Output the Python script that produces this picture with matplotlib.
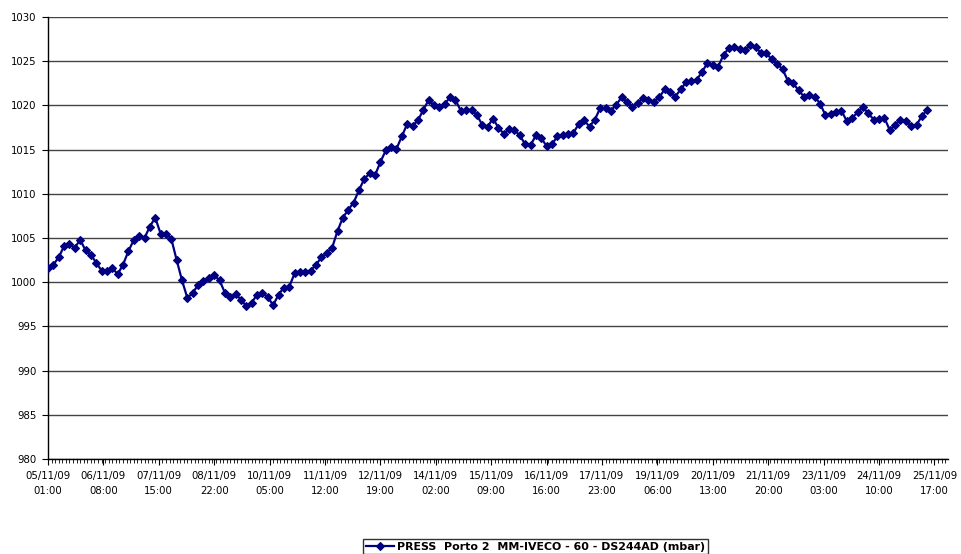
import matplotlib
matplotlib.use("Agg")
import matplotlib.pyplot as plt
import numpy as np
from matplotlib.ticker import MultipleLocator

# ---- data (pressure, mbar), one value every 3 hours from 05/11/09 01:00 ----
step_hours = 3
pressure = [
    1001.6, 1002.0, 1002.8, 1004.1, 1004.3, 1003.9, 1004.8, 1003.6, 1003.1, 1002.2,
    1001.3, 1001.3, 1001.6, 1000.9, 1002.0, 1003.5, 1004.8, 1005.2, 1005.0, 1006.3,
    1007.3, 1005.5, 1005.5, 1004.9, 1002.5, 1000.2, 998.2, 998.8, 999.7, 1000.1,
    1000.5, 1000.8, 1000.2, 998.8, 998.3, 998.7, 998.0, 997.3, 997.7, 998.6,
    998.8, 998.3, 997.4, 998.6, 999.4, 999.5, 1001.0, 1001.1, 1001.2, 1001.3,
    1002.0, 1002.8, 1003.3, 1003.9, 1005.8, 1007.3, 1008.2, 1009.0, 1010.4, 1011.7,
    1012.3, 1012.1, 1013.6, 1014.9, 1015.3, 1015.1, 1016.5, 1017.9, 1017.7, 1018.3,
    1019.5, 1020.6, 1020.0, 1019.8, 1020.2, 1020.9, 1020.6, 1019.4, 1019.5, 1019.5,
    1018.9, 1017.8, 1017.6, 1018.5, 1017.5, 1016.8, 1017.3, 1017.2, 1016.6, 1015.6,
    1015.5, 1016.6, 1016.3, 1015.4, 1015.6, 1016.5, 1016.7, 1016.8, 1016.9, 1017.9,
    1018.3, 1017.6, 1018.4, 1019.7, 1019.7, 1019.4, 1020.1, 1020.9, 1020.4, 1019.8,
    1020.3, 1020.8, 1020.6, 1020.4, 1020.9, 1021.8, 1021.5, 1021.0, 1021.8, 1022.6,
    1022.8, 1022.9, 1023.8, 1024.8, 1024.6, 1024.4, 1025.7, 1026.5, 1026.6, 1026.4,
    1026.3, 1026.8, 1026.6, 1025.9, 1025.9, 1025.2, 1024.7, 1024.1, 1022.8, 1022.5,
    1021.7, 1021.0, 1021.2, 1021.0, 1020.2, 1018.9, 1019.0, 1019.2, 1019.4, 1018.2,
    1018.6, 1019.2, 1019.8, 1019.1, 1018.4, 1018.5, 1018.6, 1017.2, 1017.8, 1018.4,
    1018.2, 1017.7, 1017.8, 1018.8, 1019.5,
]
series_label = "PRESS  Porto 2  MM-IVECO - 60 - DS244AD (mbar)"

tick_hours = [0, 31, 62, 93, 124, 155, 186, 217, 248, 279, 310, 341, 372, 403, 434, 465, 496]
tick_labels = [
    "05/11/09\n01:00", "06/11/09\n08:00", "07/11/09\n15:00", "08/11/09\n22:00",
    "10/11/09\n05:00", "11/11/09\n12:00", "12/11/09\n19:00", "14/11/09\n02:00",
    "15/11/09\n09:00", "16/11/09\n16:00", "17/11/09\n23:00", "19/11/09\n06:00",
    "20/11/09\n13:00", "21/11/09\n20:00", "23/11/09\n03:00", "24/11/09\n10:00",
    "25/11/09\n17:00",
]
y_ticks = [980, 985, 990, 995, 1000, 1005, 1010, 1015, 1020, 1025, 1030]

hours = np.arange(len(pressure)) * step_hours

plt.rcParams['font.family'] = ['DejaVu Sans']

W, H = 961, 554
fig = plt.figure(figsize=(W / 100, H / 100), dpi=100)
ax = fig.add_axes([48 / W, 1 - 459 / H, (948 - 48) / W, (459 - 17) / H])

color = "#000080"
ax.plot(hours, pressure, color=color, lw=1.6, marker="D", markersize=4.3,
        markeredgewidth=0.8, markeredgecolor=color, markerfacecolor=color,
        label=series_label, zorder=3)

ax.set_xlim(0, 503.6)
ax.set_ylim(980, 1030)
ax.set_yticks(y_ticks)
ax.set_yticklabels([str(v) for v in y_ticks], fontsize=7.3)
ax.set_xticks(tick_hours)
ax.set_xticklabels(tick_labels, fontsize=7.3, linespacing=1.55)
ax.xaxis.set_minor_locator(MultipleLocator(2))
ax.tick_params(axis="x", which="major", length=4, width=0.8, pad=5, color="black")
ax.tick_params(axis="x", which="minor", length=3, width=0.6, color="black")
ax.tick_params(axis="y", which="major", length=4, width=0.8, pad=4, color="black")

ax.grid(axis="y", color="#444444", lw=1.0, zorder=1)
ax.set_axisbelow(True)
for s in ["top", "right"]:
    ax.spines[s].set_visible(False)
for s in ["left", "bottom"]:
    ax.spines[s].set_color("black")
    ax.spines[s].set_linewidth(1.0)

leg = fig.legend(loc="center", bbox_to_anchor=(535.5 / W, 1 - 546.5 / H),
                 frameon=True, fancybox=False, edgecolor="black",
                 prop={"size": 7.9, "weight": "bold"}, handlelength=2.6,
                 handletextpad=0.3, borderpad=0.2, borderaxespad=0)
leg.get_frame().set_linewidth(1.0)

fig.savefig("out.png", dpi=100, facecolor="white")
